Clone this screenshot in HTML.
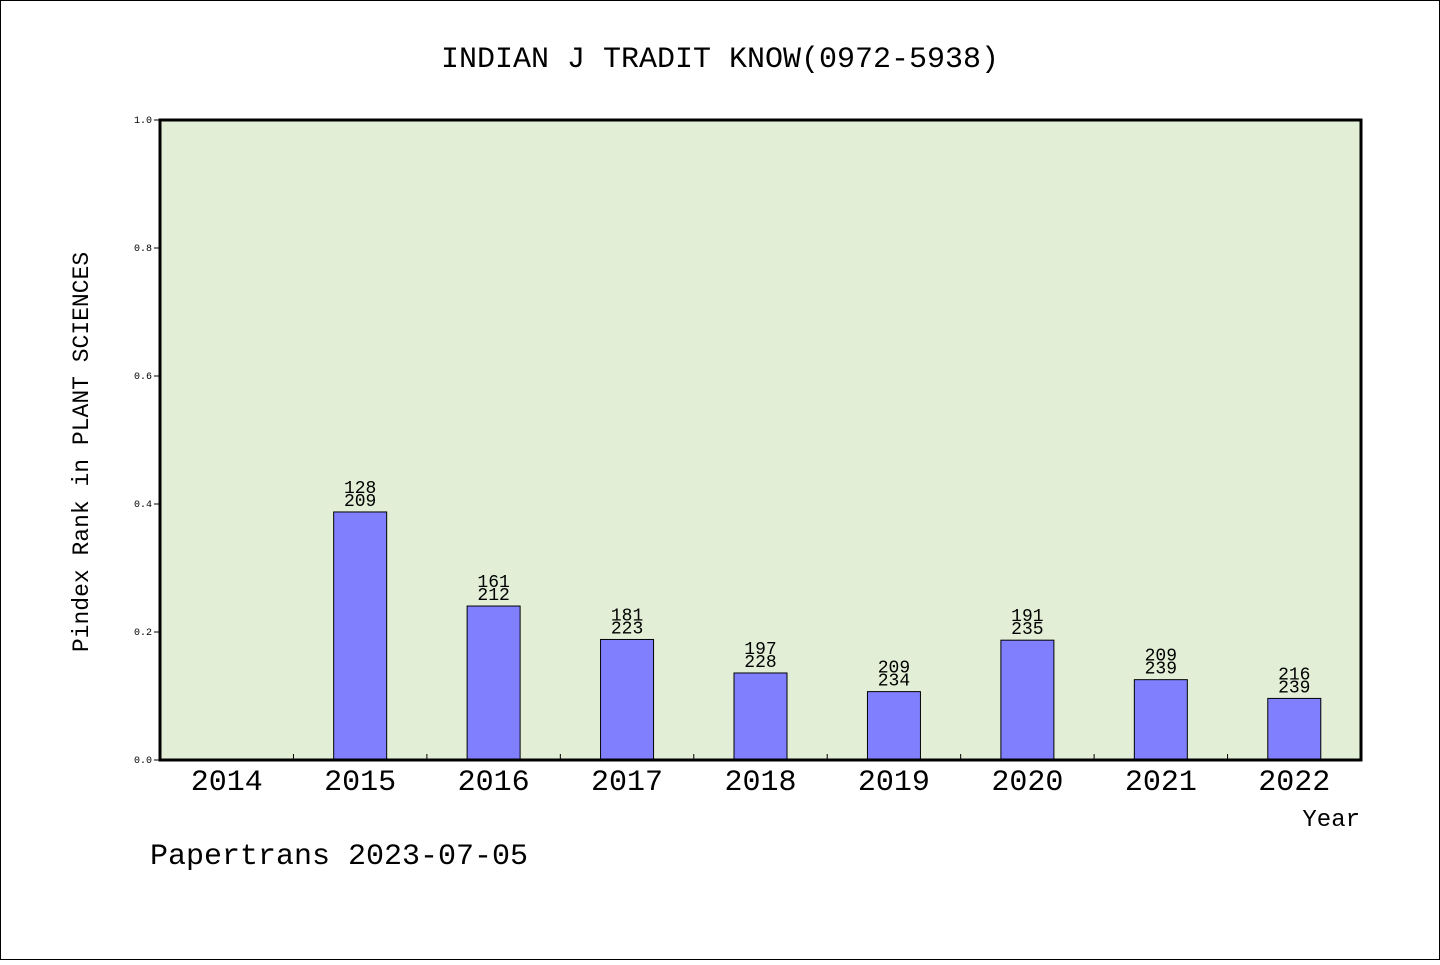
<!DOCTYPE html>
<html><head><meta charset="utf-8"><style>
body{margin:0;background:#fff}
svg text{font-family:"Liberation Mono","WenQuanYi Zen Hei",monospace;fill:#000}
</style></head><body>
<svg width="1440" height="960" xmlns="http://www.w3.org/2000/svg">
<rect x="0.5" y="0.5" width="1439" height="959" fill="#fff" stroke="#000"/>
<text x="720" y="67" font-size="30" text-anchor="middle">INDIAN J TRADIT KNOW(0972-5938)</text>
<rect x="160" y="120" width="1201" height="640" fill="#e2efd6"/>
<g id="bars"></g>
<rect x="160" y="120" width="1201" height="640" fill="none" stroke="#000" stroke-width="3"/>
<g id="axes"></g>
<text transform="translate(88,452) rotate(-90)" font-size="23" text-anchor="middle">Pindex Rank in PLANT SCIENCES</text>
<text x="1360" y="826" font-size="24" text-anchor="end">Year</text>
<text x="150" y="864" font-size="30">Papertrans 2023-07-05</text>
</svg>
<script>
const years=["2014","2015","2016","2017","2018","2019","2020","2021","2022"];
const ranks=[null,128,161,181,197,209,191,209,216];
const totals=[null,209,212,223,228,234,235,239,239];
const yTicks=["0.0","0.2","0.4","0.6","0.8","1.0"];
const X0=160,W=1201,Y0=760,H=640;
const bw=W/years.length;
const xc=i=>X0+bw*(i+0.5);
const ys=v=>Y0-v*H;
const NS="http://www.w3.org/2000/svg";
function mk(t,a,p){const e=document.createElementNS(NS,t);for(const k in a)e.setAttribute(k,a[k]);p.appendChild(e);return e;}
const bars=document.getElementById('bars'),axes=document.getElementById('axes');
years.forEach((y,i)=>{
  const lab=mk('text',{x:xc(i),y:790,'font-size':30,'text-anchor':'middle'},axes);
  
  
  lab.textContent=y;
  if(i>0){const t=mk('line',{x1:X0+bw*i,x2:X0+bw*i,y1:Y0,y2:Y0-6,stroke:'#000'},axes);
    
    }
  if(ranks[i]==null)return;
  const v=1-ranks[i]/totals[i];
  const r=mk('rect',{x:xc(i)-26.5,y:ys(v),width:53,height:Y0-ys(v),fill:'#8080ff',stroke:'#000','stroke-width':1},bars);
  
  
  const a=mk('text',{x:xc(i),y:ys(v)-19,'font-size':18,'text-anchor':'middle'},bars);
  
  
  a.textContent=ranks[i];
  const b=mk('text',{x:xc(i),y:ys(v)-6,'font-size':18,'text-anchor':'middle'},bars);
  
  
  b.textContent=totals[i];
});
yTicks.forEach((t,i)=>{
  const v=parseFloat(t);
  const l=mk('line',{x1:X0-6,x2:X0,y1:ys(v),y2:ys(v),stroke:'#000'},axes);
  
  
  const tx=mk('text',{x:X0-8,y:ys(v)+3,'font-size':10,'text-anchor':'end'},axes);
  
  
  tx.textContent=t;
});
</script>
</body></html>
